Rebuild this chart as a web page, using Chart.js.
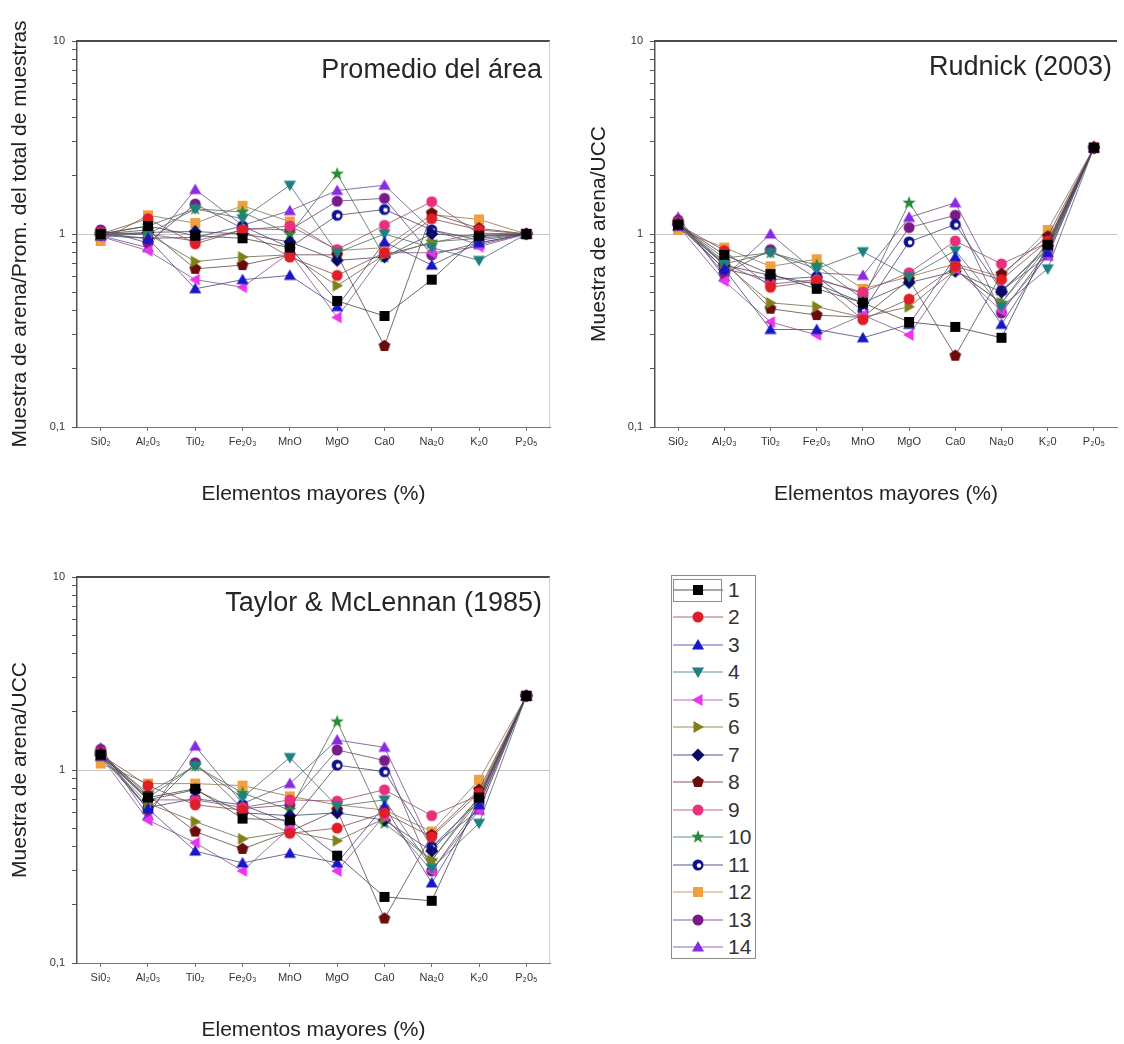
<!DOCTYPE html>
<html>
<head>
<meta charset="utf-8">
<script src="https://cdn.jsdelivr.net/npm/chart.js@4.4.1/dist/chart.umd.min.js"></script>
<style>
  body { margin: 0; background: #fff; width: 1124px; height: 1044px; position: relative; overflow: hidden;
         font-family: "Liberation Sans", Arial, sans-serif; }
  canvas.panel { position: absolute; }
  #legend { position: absolute; left: 671px; top: 575px; width: 85px; height: 384px;
            border: 1px solid #8a8a8a; box-sizing: border-box; background: #fff; }
  #legend .row { position: absolute; left: 0; height: 22px; width: 83px; }
  #legend .row canvas { position: absolute; left: 1px; top: 1px; }
  #legend .row span { position: absolute; left: 56px; top: 0; font-size: 21px; line-height: 22px; color: #333; }
  #legend .sel { position: absolute; left: 1px; top: 3px; width: 49px; height: 23px; border: 1px solid #b08080; box-sizing: border-box; }
</style>
</head>
<body>
<canvas id="c1" class="panel" width="560" height="520" style="left:0;top:0"></canvas>
<canvas id="c2" class="panel" width="564" height="520" style="left:560px;top:0"></canvas>
<canvas id="c3" class="panel" width="560" height="508" style="left:0;top:536px"></canvas>
<div id="legend"></div>

<script>
// elementos mayores (eje x)
const elements = ['Si0₂', 'Al₂0₃', 'Ti0₂', 'Fe₂0₃', 'MnO', 'MgO', 'Ca0', 'Na₂0', 'K₂0', 'P₂0₅'];
const sampleNames = ['1', '2', '3', '4', '5', '6', '7', '8', '9', '10', '11', '12', '13', '14'];
const yTickValues = [0.1, 0.2, 0.3, 0.4, 0.5, 0.6, 0.7, 0.8, 0.9, 1, 2, 3, 4, 5, 6, 7, 8, 9, 10];

// muestra / promedio del área (filas = muestras 1..14)
const promedioValues = [
  [1.00, 1.10, 0.98, 0.95, 0.85, 0.45, 0.376, 0.58, 0.98, 1.00],
  [1.00, 1.20, 0.89, 1.05, 0.76, 0.61, 0.80, 1.20, 1.05, 1.00],
  [0.98, 0.95, 0.52, 0.58, 0.61, 0.42, 0.91, 0.69, 0.90, 1.00],
  [1.00, 1.00, 1.35, 1.20, 1.79, 0.80, 1.00, 0.85, 0.73, 1.00],
  [0.97, 0.82, 0.58, 0.53, 0.80, 0.37, 0.80, 0.80, 0.86, 1.00],
  [0.98, 1.00, 0.72, 0.76, 0.78, 0.54, 0.78, 0.90, 1.01, 1.00],
  [0.99, 1.02, 1.03, 1.00, 0.91, 0.73, 0.76, 1.00, 0.97, 1.00],
  [1.00, 1.05, 0.66, 0.69, 0.78, 0.78, 0.263, 1.28, 1.07, 1.00],
  [1.02, 1.00, 0.92, 1.05, 1.10, 0.83, 1.11, 1.47, 1.00, 1.00],
  [1.00, 1.10, 1.35, 1.30, 1.00, 2.05, 0.76, 0.91, 0.95, 1.00],
  [1.00, 0.95, 0.96, 1.10, 0.85, 1.25, 1.34, 1.05, 0.93, 1.00],
  [0.92, 1.25, 1.14, 1.40, 1.16, 0.82, 0.85, 1.26, 1.19, 1.00],
  [1.05, 0.90, 1.43, 1.07, 1.05, 1.48, 1.53, 0.78, 0.90, 1.00],
  [0.98, 0.85, 1.70, 1.11, 1.32, 1.68, 1.79, 1.05, 0.88, 1.00]
];

// muestra / UCC Rudnick (2003)
const rudnickValues = [
  [1.12, 0.78, 0.62, 0.52, 0.44, 0.35, 0.33, 0.29, 0.88, 2.80],
  [1.12, 0.82, 0.53, 0.57, 0.36, 0.46, 0.68, 0.58, 0.92, 2.80],
  [1.10, 0.66, 0.32, 0.32, 0.29, 0.34, 0.76, 0.34, 0.80, 2.80],
  [1.12, 0.70, 0.80, 0.66, 0.81, 0.60, 0.82, 0.42, 0.66, 2.80],
  [1.10, 0.57, 0.35, 0.30, 0.38, 0.30, 0.66, 0.40, 0.77, 2.80],
  [1.10, 0.70, 0.44, 0.42, 0.37, 0.42, 0.65, 0.44, 0.91, 2.80],
  [1.12, 0.69, 0.61, 0.55, 0.44, 0.56, 0.64, 0.50, 0.87, 2.80],
  [1.13, 0.72, 0.41, 0.38, 0.37, 0.58, 0.234, 0.62, 0.97, 2.80],
  [1.15, 0.70, 0.55, 0.58, 0.50, 0.63, 0.92, 0.70, 0.90, 2.80],
  [1.12, 0.75, 0.80, 0.69, 0.46, 1.45, 0.65, 0.44, 0.85, 2.80],
  [1.12, 0.66, 0.58, 0.60, 0.40, 0.91, 1.12, 0.51, 0.84, 2.80],
  [1.05, 0.85, 0.68, 0.74, 0.52, 0.60, 0.70, 0.60, 1.05, 2.80],
  [1.18, 0.62, 0.83, 0.59, 0.49, 1.08, 1.25, 0.39, 0.82, 2.80],
  [1.22, 0.60, 1.00, 0.63, 0.61, 1.22, 1.45, 0.51, 0.77, 2.80]
];

// muestra / UCC Taylor & McLennan (1985)
const taylorValues = [
  [1.20, 0.72, 0.80, 0.56, 0.55, 0.36, 0.22, 0.21, 0.72, 2.42],
  [1.20, 0.83, 0.66, 0.62, 0.47, 0.50, 0.60, 0.45, 0.76, 2.42],
  [1.18, 0.63, 0.38, 0.33, 0.37, 0.33, 0.65, 0.26, 0.66, 2.42],
  [1.20, 0.72, 1.05, 0.72, 1.16, 0.65, 0.70, 0.31, 0.53, 2.42],
  [1.18, 0.55, 0.42, 0.30, 0.50, 0.30, 0.58, 0.30, 0.62, 2.42],
  [1.18, 0.67, 0.54, 0.44, 0.48, 0.43, 0.56, 0.34, 0.73, 2.42],
  [1.20, 0.70, 0.79, 0.60, 0.58, 0.60, 0.55, 0.38, 0.72, 2.42],
  [1.22, 0.74, 0.48, 0.39, 0.48, 0.62, 0.17, 0.46, 0.79, 2.42],
  [1.24, 0.70, 0.70, 0.64, 0.70, 0.69, 0.79, 0.58, 0.74, 2.42],
  [1.20, 0.76, 1.05, 0.76, 0.62, 1.78, 0.53, 0.34, 0.70, 2.42],
  [1.20, 0.64, 0.71, 0.66, 0.53, 1.06, 0.98, 0.40, 0.69, 2.42],
  [1.08, 0.85, 0.85, 0.83, 0.73, 0.66, 0.62, 0.48, 0.89, 2.42],
  [1.28, 0.62, 1.09, 0.63, 0.66, 1.27, 1.12, 0.30, 0.66, 2.42],
  [1.30, 0.58, 1.33, 0.67, 0.85, 1.43, 1.31, 0.40, 0.62, 2.42]
];

const sampleColors = ['#000000', '#e01e28', '#1717c8', '#1e8080', '#ea35ea', '#808018', '#0a0a66',
                      '#6a0c0c', '#e8307c', '#2a8a3a', '#10108c', '#f0a040', '#781a88', '#8a2be2'];
const sampleShapes = ['square', 'circle', 'up', 'down', 'left', 'right', 'diamond',
                      'pentagon', 'circle', 'star', 'halfmoon', 'square', 'circle', 'up'];

const FONT = '"Liberation Sans", Arial, sans-serif';

// mezcla el color de la serie con gris para las líneas
function lineColor(hex, amount) {
  const r = parseInt(hex.slice(1, 3), 16), g = parseInt(hex.slice(3, 5), 16), b = parseInt(hex.slice(5, 7), 16);
  const m = (c) => Math.round(c * amount + 95 * (1 - amount));
  return `rgba(${m(r)},${m(g)},${m(b)},0.8)`;
}

function polygon(ctx, x, y, r, n, start) {
  for (let i = 0; i < n; i++) {
    const a = start + i * 2 * Math.PI / n;
    const px = x + r * Math.cos(a), py = y + r * Math.sin(a);
    if (i === 0) ctx.moveTo(px, py); else ctx.lineTo(px, py);
  }
  ctx.closePath();
}

function drawMarker(ctx, shape, x, y, color) {
  ctx.fillStyle = color;
  ctx.beginPath();
  switch (shape) {
    case 'square': ctx.rect(x - 5, y - 5, 10, 10); break;
    case 'circle': ctx.arc(x, y, 5.5, 0, Math.PI * 2); break;
    case 'up': polygon(ctx, x, y + 1, 7, 3, -Math.PI / 2); break;
    case 'down': polygon(ctx, x, y - 1, 7, 3, Math.PI / 2); break;
    case 'left': polygon(ctx, x + 1, y, 7, 3, Math.PI); break;
    case 'right': polygon(ctx, x - 1, y, 7, 3, 0); break;
    case 'diamond': polygon(ctx, x, y, 6.5, 4, -Math.PI / 2); break;
    case 'pentagon': polygon(ctx, x, y, 6.2, 5, -Math.PI / 2); break;
    case 'star':
      for (let i = 0; i < 10; i++) {
        const a = -Math.PI / 2 + i * Math.PI / 5;
        const rr = i % 2 === 0 ? 7 : 2.9;
        if (i === 0) ctx.moveTo(x + rr * Math.cos(a), y + rr * Math.sin(a));
        else ctx.lineTo(x + rr * Math.cos(a), y + rr * Math.sin(a));
      }
      ctx.closePath();
      break;
    case 'halfmoon': ctx.arc(x, y, 5.5, 0, Math.PI * 2); break;
  }
  ctx.fill();
  if (shape === 'halfmoon') {
    ctx.fillStyle = '#ffffff';
    ctx.beginPath();
    ctx.arc(x + 1, y + 0.5, 2.2, 0, Math.PI * 2);
    ctx.fill();
  }
}

// iconos de marcador como canvas (pointStyle)
const markerIcons = sampleShapes.map((shape, i) => {
  const cv = document.createElement('canvas');
  cv.width = 16; cv.height = 16;
  drawMarker(cv.getContext('2d'), shape, 8, 8, sampleColors[i]);
  return cv;
});

function isDecade(v) {
  const l = Math.log10(v);
  return Math.abs(l - Math.round(l)) < 1e-6;
}

const panelPlugin = {
  id: 'panelFrame',
  afterDraw(chart, args, o) {
    const { ctx, chartArea: a } = chart;
    ctx.save();
    ctx.strokeStyle = '#4a4a4a';
    ctx.lineWidth = 2;
    ctx.beginPath(); ctx.moveTo(a.left, a.top); ctx.lineTo(a.right, a.top); ctx.stroke();
    if (o.rightBorder) {
      ctx.strokeStyle = '#cfcfcf';
      ctx.lineWidth = 1;
      ctx.beginPath(); ctx.moveTo(a.right - 0.5, a.top); ctx.lineTo(a.right - 0.5, a.bottom); ctx.stroke();
    }
    ctx.font = '27px ' + FONT;
    ctx.fillStyle = '#262626';
    ctx.textAlign = 'right';
    ctx.textBaseline = 'middle';
    ctx.fillText(o.text, a.right - o.dx, a.top + o.dy);
    ctx.restore();
  }
};

function makePanel(id, values, cfg) {
  const datasets = sampleNames.map((name, i) => ({
    label: name,
    data: values[i],
    borderColor: lineColor(sampleColors[i], 0.3),
    backgroundColor: sampleColors[i],
    borderWidth: 1,
    pointStyle: markerIcons[i],
    pointRadius: 6,
    tension: 0
  }));

  return new Chart(document.getElementById(id), {
    type: 'line',
    data: { labels: elements, datasets: datasets },
    plugins: [panelPlugin],
    options: {
      responsive: false,
      animation: false,
      layout: { padding: { top: 41, right: cfg.padRight, left: 0, bottom: 0 } },
      plugins: {
        legend: { display: false },
        tooltip: { enabled: false },
        panelFrame: { text: cfg.title, dx: cfg.titleDx, dy: cfg.titleDy, rightBorder: cfg.rightBorder }
      },
      scales: {
        x: {
          type: 'category',
          offset: true,
          grid: { display: true, drawOnChartArea: false, tickLength: 4, color: '#777' },
          border: { color: '#777', width: 1 },
          ticks: { font: { size: 11, family: FONT }, color: '#333', padding: 4, autoSkip: false, maxRotation: 0 },
          title: {
            display: true, text: 'Elementos mayores (%)', color: '#222',
            font: { size: 21, family: FONT }, padding: { top: 0, bottom: cfg.xTitlePad }
          },
          afterFit: (s) => { s.height = cfg.xHeight; }
        },
        y: {
          type: 'logarithmic',
          min: 0.1,
          max: 10,
          afterBuildTicks: (s) => { s.ticks = yTickValues.map(v => ({ value: v })); },
          ticks: {
            autoSkip: false,
            font: { size: 11, family: FONT },
            color: '#333',
            padding: 7,
            callback: (v) => isDecade(v) ? (v < 1 ? '0,1' : String(Math.round(v))) : ''
          },
          grid: {
            drawOnChartArea: true,
            tickLength: 5,
            tickColor: '#555',
            color: (c) => (c.tick && Math.abs(c.tick.value - 1) < 1e-9) ? '#c4c4c4' : 'rgba(0,0,0,0)'
          },
          border: { color: '#555', width: 1.5 },
          title: {
            display: true, text: cfg.yTitle, color: '#222',
            font: { size: 21, family: FONT }, padding: { top: cfg.yTitlePad, bottom: 0 }
          },
          afterFit: (s) => { s.width = cfg.yWidth; }
        }
      }
    }
  });
}

makePanel('c1', promedioValues, {
  title: 'Promedio del área', titleDx: 8, titleDy: 30, rightBorder: true, padRight: 10,
  yTitle: 'Muestra de arena/Prom. del total de muestras', yTitlePad: 8, yWidth: 77,
  xHeight: 93, xTitlePad: 13
});

makePanel('c2', rudnickValues, {
  title: 'Rudnick (2003)', titleDx: 5, titleDy: 27, rightBorder: false, padRight: 0,
  yTitle: 'Muestra de arena/UCC', yTitlePad: 27, yWidth: 95,
  xHeight: 93, xTitlePad: 13
});

makePanel('c3', taylorValues, {
  title: 'Taylor & McLennan (1985)', titleDx: 8, titleDy: 27, rightBorder: true, padRight: 10,
  yTitle: 'Muestra de arena/UCC', yTitlePad: 8, yWidth: 77,
  xHeight: 81, xTitlePad: 1
});

// leyenda: línea + marcador + número
const legend = document.getElementById('legend');
sampleNames.forEach((name, i) => {
  const row = document.createElement('div');
  row.className = 'row';
  row.style.top = (14 + i * 27.46 - 11) + 'px';
  const cv = document.createElement('canvas');
  cv.width = 50; cv.height = 20;
  const ctx = cv.getContext('2d');
  ctx.strokeStyle = lineColor(sampleColors[i], 0.6);
  ctx.lineWidth = 1;
  ctx.beginPath(); ctx.moveTo(0, 10); ctx.lineTo(50, 10); ctx.stroke();
  drawMarker(ctx, sampleShapes[i], 25, 10, sampleColors[i]);
  row.appendChild(cv);
  const label = document.createElement('span');
  label.textContent = name;
  row.appendChild(label);
  legend.appendChild(row);
});
const sel = document.createElement('div');
sel.className = 'sel';
legend.appendChild(sel);
</script>
</body>
</html>
